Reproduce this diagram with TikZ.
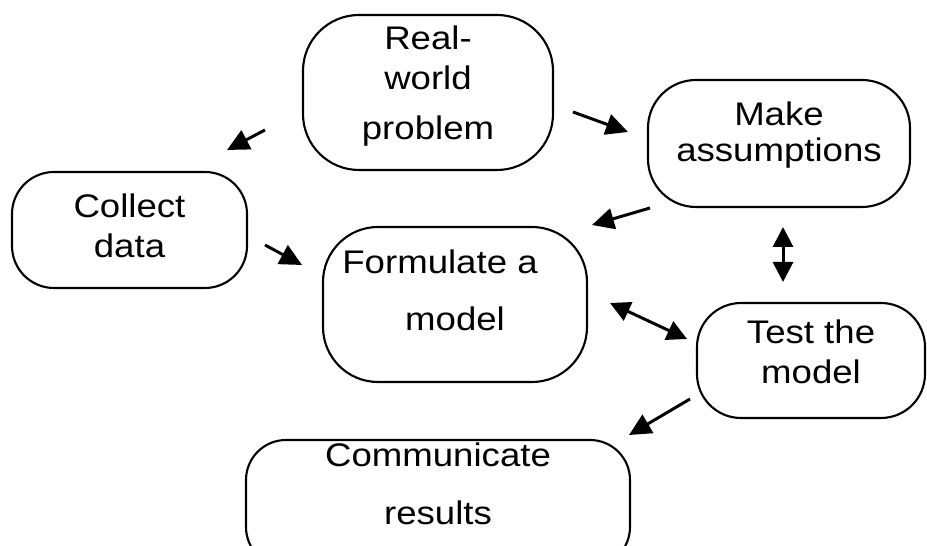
\documentclass[tikz,border=0pt]{standalone}
\usepackage{fontspec}
\setmainfont{Liberation Sans}[FakeStretch=1.12]
\usetikzlibrary{arrows.meta}

\begin{document}
\begin{tikzpicture}[
  stage/.style={draw, line width=0.6pt, rounded corners=0.45cm, align=center,
    inner sep=0pt, font=\fontsize{9.3}{11.4}\selectfont},
  flow/.style={line width=0.85pt, -{Triangle[length=0.22cm, width=0.21cm]}},
  twoway/.style={line width=0.85pt, {Triangle[length=0.2cm, width=0.2cm]}-{Triangle[length=0.2cm, width=0.2cm]}}
]
\clip (0,0) rectangle (9.27,5.46);

% the stages of modelling
\node[stage, minimum width=2.50cm, minimum height=1.55cm, rounded corners=0.56cm, text depth=0.20cm]
  (problem) at (4.28,4.535) {Real-\\world\\[0.1cm]problem};
\node[stage, minimum width=2.62cm, minimum height=1.27cm, rounded corners=0.48cm, text depth=0.23cm]
  (assume) at (7.79,4.025) {Make\\[-0.04cm]assumptions};
\node[stage, minimum width=2.35cm, minimum height=1.16cm, rounded corners=0.42cm, text depth=0.09cm]
  (collect) at (1.295,3.16) {Collect\\data};
\node[stage, minimum width=2.64cm, minimum height=1.55cm, rounded corners=0.55cm, text depth=0.29cm]
  (formulate) at (4.55,2.415) {Formulate a\hspace*{0.3cm}\\[0.17cm]model};
\node[stage, minimum width=2.28cm, minimum height=1.15cm, rounded corners=0.44cm, text depth=0.18cm]
  (test) at (8.11,1.855) {Test the\\model};
\node[stage, minimum width=3.84cm, minimum height=1.27cm, rounded corners=0.4cm, text depth=0.40cm]
  (communicate) at (4.38,0.425) {Communicate\\[0.18cm]results};

% free ends of the short arrows
\coordinate (p1) at (2.65,4.16);  \coordinate (c1) at (2.27,3.96);
\coordinate (p2) at (5.73,4.34);  \coordinate (a2) at (6.28,4.14);
\coordinate (c3) at (2.65,3.01);  \coordinate (f3) at (3.02,2.81);
\coordinate (a4) at (6.50,3.38);  \coordinate (f4) at (5.92,3.21);
\coordinate (a5) at (7.83,3.19);  \coordinate (t5) at (7.83,2.64);
\coordinate (f6) at (6.10,2.43);  \coordinate (t6) at (6.87,2.07);
\coordinate (t7) at (6.90,1.47);  \coordinate (r7) at (6.29,1.11);

\foreach \from/\to in {p1/c1, p2/a2, c3/f3, a4/f4, t7/r7}
  \draw[flow] (\from) -- (\to);
\foreach \from/\to in {a5/t5, f6/t6}
  \draw[twoway] (\from) -- (\to);
\end{tikzpicture}
\end{document}
